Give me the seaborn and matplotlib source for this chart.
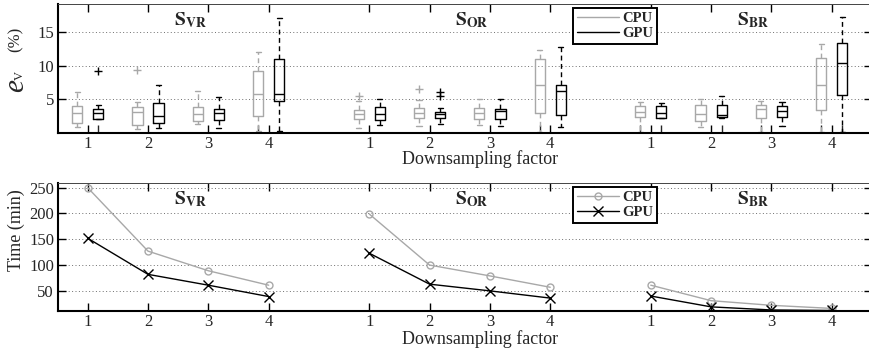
import numpy as np
import pandas as pd
import matplotlib
matplotlib.use("Agg")
import matplotlib.pyplot as plt
from matplotlib.lines import Line2D
import seaborn as sns

# ---------------------------------------------------------------- data
factors = [1, 2, 3, 4]
schemes = ["VR", "OR", "BR"]
scheme_titles = [r"$\mathbf{S}_{\mathbf{VR}}$", r"$\mathbf{S}_{\mathbf{OR}}$",
                 r"$\mathbf{S}_{\mathbf{BR}}$"]

# Volume error e_V (%) per scheme (rows: VR, OR, BR) and factor (columns 1..4)
cpu_low = [[0.9, 0.6, 1.3, 0.3], [0.8, 1.05, 1.15, 0.2], [0.2, 0.95, 0.2, 0.2]]
cpu_q1 = [[1.5, 1.15, 1.8, 2.6], [2.1, 2.2, 2.1, 3.05], [2.35, 1.85, 2.2, 3.4]]
cpu_med = [[3.05, 3.15, 2.9, 5.8], [2.8, 2.95, 2.95, 7.2], [3.1, 2.8, 3.55, 7.2]]
cpu_q3 = [[4.05, 3.8, 3.8, 9.2], [3.4, 3.65, 3.65, 10.95], [4.0, 4.15, 4.15, 11.1]]
cpu_high = [[6.05, 4.55, 6.3, 12.0], [4.8, 4.9, 5.0, 12.3], [4.65, 5.05, 4.75, 13.3]]

gpu_low = [[2.1, 0.7, 0.8, 0.35], [1.2, 1.35, 1.1, 0.95], [2.2, 2.2, 1.1, 0.2]]
gpu_q1 = [[2.1, 1.5, 1.95, 4.8], [1.95, 2.2, 2.05, 2.65], [2.25, 2.4, 2.4, 5.7]]
gpu_med = [[3.0, 2.5, 3.0, 5.75], [2.8, 2.8, 3.25, 6.3], [3.0, 2.65, 3.25, 10.45]]
gpu_q3 = [[3.5, 4.4, 3.6, 10.95], [3.8, 3.15, 3.5, 7.2], [4.0, 4.1, 4.0, 13.4]]
gpu_high = [[4.1, 7.1, 5.4, 17.1], [5.05, 3.75, 5.0, 12.8], [4.4, 5.55, 4.6, 17.3]]

# Outliers: (scheme, factor, value)
cpu_outliers = [("VR", 2, 9.4), ("OR", 1, 5.55), ("OR", 2, 6.5)]
gpu_outliers = [("VR", 1, 9.2), ("OR", 2, 6.1), ("OR", 2, 5.5)]

# Run time (min) per scheme and factor
cpu_time = [[250, 127, 89, 61], [199, 100, 79, 57], [61, 31, 22, 16]]
gpu_time = [[152, 82, 61, 39], [123, 63, 50, 36], [40, 19, 13, 12]]

# ---------------------------------------------------------------- layout helpers
GROUP_SHIFT = 14 / 3          # horizontal distance between scheme groups
BOX_OFFSET = 0.175            # CPU left / GPU right of the factor position
colors = {"CPU": "#a8a8a8", "GPU": "black"}


def xpos(g, f):
    return f + g * GROUP_SHIFT


box_rows, out_rows, time_rows = [], [], []
stats = {"CPU": (cpu_low, cpu_q1, cpu_med, cpu_q3, cpu_high),
         "GPU": (gpu_low, gpu_q1, gpu_med, gpu_q3, gpu_high)}
for dev, sgn in (("CPU", -1), ("GPU", 1)):
    for g, sch in enumerate(schemes):
        for i, f in enumerate(factors):
            p = xpos(g, f) + sgn * BOX_OFFSET
            for arr in stats[dev]:
                box_rows.append(dict(device=dev, scheme=sch, pos=p, err=arr[g][i]))
    outs = cpu_outliers if dev == "CPU" else gpu_outliers
    for sch, f, v in outs:
        g = schemes.index(sch)
        out_rows.append(dict(device=dev, pos=xpos(g, f) + sgn * BOX_OFFSET, err=v))
    tarr = cpu_time if dev == "CPU" else gpu_time
    for g, sch in enumerate(schemes):
        for i, f in enumerate(factors):
            time_rows.append(dict(device=dev, scheme=sch, pos=xpos(g, f), time=tarr[g][i]))

box_df = pd.DataFrame(box_rows)
out_df = pd.DataFrame(out_rows)
time_df = pd.DataFrame(time_rows)

# ---------------------------------------------------------------- style
sns.set_style("ticks")
plt.rcParams["font.family"] = ["Liberation Serif", "DejaVu Serif"]
plt.rcParams["mathtext.fontset"] = "stix"

W, H = 869, 354
fig = plt.figure(figsize=(W / 100, H / 100), dpi=100)


def px_axes(left, top, right, bottom):
    return fig.add_axes([left / W, 1 - bottom / H, (right - left) / W, (bottom - top) / H])


ax1 = px_axes(57.5, 4, 872, 133)
ax2 = px_axes(57.5, 183, 872, 311)

major_pos = [xpos(g, f) for g in range(3) for f in factors]
major_lab = [str(f) for _ in range(3) for f in factors]

# ---------------------------------------------------------------- box plots
for dev in ("CPU", "GPU"):
    sub = box_df[box_df.device == dev]
    sns.boxplot(data=sub, x="pos", y="err", native_scale=True, width=0.17,
                whis=(0, 100), fill=False, color=colors[dev], linecolor=colors[dev],
                linewidth=1.0, showfliers=False,
                whiskerprops=dict(linestyle=(0, (3.5, 2.5))), ax=ax1)
    osub = out_df[out_df.device == dev]
    sns.scatterplot(data=osub, x="pos", y="err", marker="+", color=colors[dev],
                    s=30, linewidth=1.0, ax=ax1, legend=False, zorder=5)

# ---------------------------------------------------------------- run times
markers = {"CPU": "o", "GPU": "x"}
msize = {"CPU": 5, "GPU": 6.5}
for dev in ("CPU", "GPU"):
    sub = time_df[time_df.device == dev]
    sns.lineplot(data=sub, x="pos", y="time", units="scheme", estimator=None,
                 color=colors[dev], marker=markers[dev], ms=msize[dev], mfc="none",
                 mec=colors[dev], mew=1.0, lw=1.0, ax=ax2, sort=False)

# ---------------------------------------------------------------- axes styling
ax1.set_ylim(0, 19.2)
ax1.set_yticks([5, 10, 15])
ax2.set_ylim(11, 259)
ax2.set_yticks([50, 100, 150, 200, 250])

minor_pos = [xpos(0, 1) + BOX_OFFSET, xpos(0, 4) - BOX_OFFSET, xpos(1, 4) - BOX_OFFSET,
             xpos(2, 1) - BOX_OFFSET, xpos(2, 1) + BOX_OFFSET, xpos(2, 2) + BOX_OFFSET,
             xpos(2, 3) - BOX_OFFSET, xpos(2, 4) - BOX_OFFSET, xpos(2, 4) + BOX_OFFSET]

for ax in (ax1, ax2):
    ax.set_xlim(0.5, 14)
    ax.set_xticks(major_pos)
    ax.set_xticklabels(major_lab)
    ax.tick_params(axis="both", which="major", direction="in", length=6, width=1.0,
                   top=True, right=True, labelsize=12, color="black", pad=2)
    ax.tick_params(axis="y", pad=2.5)
    ax.yaxis.grid(True, linestyle=(0, (1, 2.5)), color="#6e6e6e", lw=0.7)
    ax.xaxis.grid(False)
    for side in ("left", "bottom"):
        ax.spines[side].set_linewidth(1.5)
        ax.spines[side].set_color("black")
    ax.spines["top"].set_linewidth(0.7)
    ax.spines["top"].set_color("#444444")
    ax.spines["right"].set_visible(False)
    ax.set_ylabel("")
    ax.set_xlabel("Downsampling factor", fontsize=13)
    ax.xaxis.label.set_va("center")
    for g in range(3):
        ax.text(xpos(g, 2.5) + 0.2, 0.875, scheme_titles[g], transform=ax.get_xaxis_transform(),
                ha="center", va="center", fontsize=14)

ax1.set_xticks(minor_pos, minor=True)
ax1.tick_params(axis="x", which="minor", direction="in", length=6, width=1.0,
                bottom=True, top=False)
ax1.xaxis.set_label_coords((480 - 57.5) / 814.5, (133 - 159) / 129)
ax2.xaxis.set_label_coords((480 - 57.5) / 814.5, (311 - 339) / 128)

# y labels
fig.text(15.5 / W, 1 - 39 / H, "(%)", rotation=90, ha="center", va="center",
         rotation_mode="anchor", fontsize=12)
fig.text(23 / W, 1 - 85.5 / H, "e", rotation=90, ha="center", va="baseline",
         rotation_mode="anchor", fontsize=21, style="italic")
fig.text(23 / W, 1 - 76 / H, "V", rotation=90, ha="center", va="baseline",
         rotation_mode="anchor", fontsize=9)
fig.text(16 / W, 1 - 230 / H, "Time (min)", rotation=90, ha="center", va="center",
         rotation_mode="anchor", fontsize=13)

# ---------------------------------------------------------------- legends
leg_font = dict(family=["Liberation Serif"], weight="bold", size=10.5)
h1 = [Line2D([], [], color=colors["CPU"], lw=1.0), Line2D([], [], color=colors["GPU"], lw=1.0)]
h2 = [Line2D([], [], color=colors["CPU"], lw=1.0, marker="o", ms=5, mfc="none"),
      Line2D([], [], color=colors["GPU"], lw=1.0, marker="x", ms=6.5)]
for ax, hs, ytop in ((ax1, h1, (133 - 8) / 129), (ax2, h2, (311 - 187) / 128)):
    leg = ax.legend(hs, ["CPU", "GPU"], loc="upper left", bbox_to_anchor=(0.633, ytop),
                    borderaxespad=0, prop=leg_font, fancybox=False, framealpha=1,
                    edgecolor="black", handlelength=2.9, handletextpad=0.2,
                    borderpad=0.25, labelspacing=0.15)
    leg.get_frame().set_linewidth(1.4)

fig.savefig("out.png", dpi=100)
